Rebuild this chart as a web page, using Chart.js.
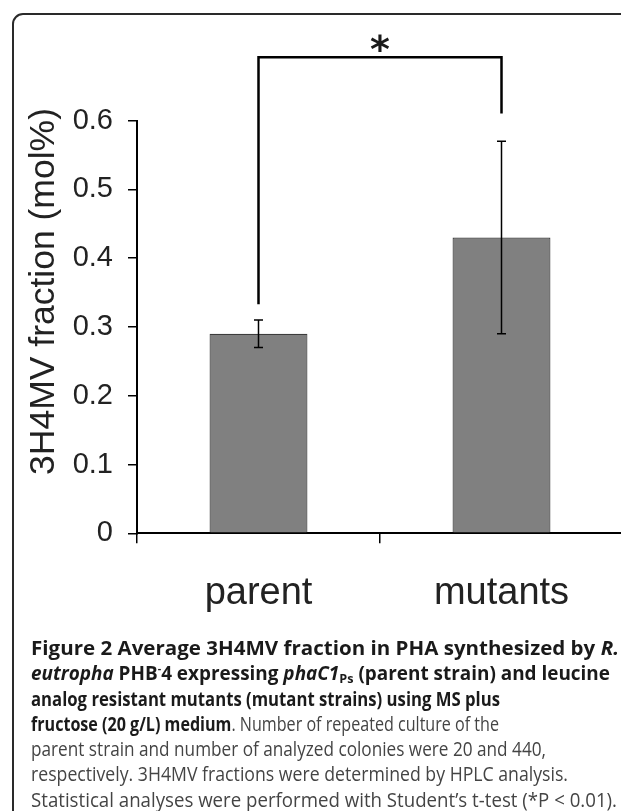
<!DOCTYPE html>
<html>
<head>
<meta charset="utf-8">
<script src="https://cdn.jsdelivr.net/npm/chart.js@4.4.1/dist/chart.umd.min.js"></script>
<style>
  html, body { margin: 0; padding: 0; background: #fff; overflow: hidden; width: 621px; height: 811px; }
  #frame {
    position: absolute; left: 12px; top: 13px; width: 700px; height: 900px;
    border: 2px solid #2a2a2a; border-top-left-radius: 11px;
  }
  #chartWrap { position: absolute; left: 0; top: 0; }
  #caption {
    position: absolute; left: 31px; top: 635px;
    font-family: "Open Sans", sans-serif; font-size: 19.5px; line-height: 25.3px;
    color: #444;
  }
  #caption .ln { display: block; height: 25.3px; }
  #caption .ln span.fit { display: inline-block; white-space: nowrap; transform-origin: 0 0; }
  #caption b { color: #1a1a1a; font-weight: 700; }
  #caption sup { font-size: 11px; vertical-align: 8px; line-height: 0; }
  #caption sub { font-size: 13px; vertical-align: -3px; line-height: 0; }
</style>
</head>
<body>
<div id="frame"></div>
<div id="chartWrap"><canvas id="barChart" width="640" height="640"></canvas></div>
<div id="caption">
  <div class="ln" data-right="619"><span class="fit"><b>Figure 2 Average 3H4MV fraction in PHA synthesized by <i>R.</i></b></span></div>
  <div class="ln" data-right="610"><span class="fit"><b><i>eutropha</i> PHB<sup>-</sup>4 expressing <i>phaC1</i><sub>Ps</sub> (parent strain) and leucine</b></span></div>
  <div class="ln" data-right="500"><span class="fit"><b>analog resistant mutants (mutant strains) using MS plus</b></span></div>
  <div class="ln" data-right="499"><span class="fit"><b>fructose (20 g/L) medium</b>. Number of repeated culture of the</span></div>
  <div class="ln" data-right="546"><span class="fit">parent strain and number of analyzed colonies were 20 and 440,</span></div>
  <div class="ln" data-right="568"><span class="fit">respectively. 3H4MV fractions were determined by HPLC analysis.</span></div>
  <div class="ln" data-right="617"><span class="fit">Statistical analyses were performed with Student’s t-test (*P &lt; 0.01).</span></div>
</div>
<script>
// data
const groups = ['parent', 'mutants'];
const fraction = [0.29, 0.43];
const errors = [0.02, 0.14];
const yTicks = [0, 0.1, 0.2, 0.3, 0.4, 0.5, 0.6];

// significance bracket (in data units)
const bracketTop = 0.692;
const bracketEnds = [0.333, 0.61];
const sigLevel = 0.713;
const sigMark = '*';

// squeeze caption lines to the widths in the figure
document.querySelectorAll('#caption .ln').forEach(ln => {
  const span = ln.querySelector('.fit');
  const target = +ln.dataset.right - 31;
  const w = span.getBoundingClientRect().width;
  span.style.transform = 'scaleX(' + (target / w) + ')';
});

const extras = {
  id: 'extras',
  afterDatasetsDraw(chart) {
    const ctx = chart.ctx;
    const y = chart.scales.y;
    const meta = chart.getDatasetMeta(0);
    ctx.save();
    // error bars
    ctx.strokeStyle = '#000';
    ctx.lineWidth = 1.5;
    meta.data.forEach((bar, i) => {
      const top = y.getPixelForValue(fraction[i] + errors[i]);
      const bot = y.getPixelForValue(fraction[i] - errors[i]);
      ctx.beginPath();
      ctx.moveTo(bar.x, top); ctx.lineTo(bar.x, bot);
      ctx.moveTo(bar.x - 4.5, top); ctx.lineTo(bar.x + 4.5, top);
      ctx.moveTo(bar.x - 4.5, bot); ctx.lineTo(bar.x + 4.5, bot);
      ctx.stroke();
    });
    // bracket
    const xl = meta.data[0].x, xr = meta.data[1].x;
    const yt = y.getPixelForValue(bracketTop);
    ctx.lineWidth = 2.5;
    ctx.beginPath();
    ctx.moveTo(xl, y.getPixelForValue(bracketEnds[0]));
    ctx.lineTo(xl, yt);
    ctx.lineTo(xr, yt);
    ctx.lineTo(xr, y.getPixelForValue(bracketEnds[1]));
    ctx.stroke();
    // star, sized to ~19px tall and centred on sigLevel
    ctx.fillStyle = '#1a1a1a';
    ctx.textAlign = 'center';
    ctx.textBaseline = 'alphabetic';
    ctx.font = 'bold 40px "DejaVu Sans"';
    let m = ctx.measureText(sigMark);
    let h = m.actualBoundingBoxAscent + m.actualBoundingBoxDescent;
    const size = 40 * 19 / h;
    ctx.font = 'bold ' + size + 'px "DejaVu Sans"';
    m = ctx.measureText(sigMark);
    const cy = y.getPixelForValue(sigLevel);
    const base = cy + (m.actualBoundingBoxAscent - m.actualBoundingBoxDescent) / 2;
    ctx.fillText(sigMark, (xl + xr) / 2, base);
    // y axis title
    ctx.translate(54, 291.5);
    ctx.rotate(-Math.PI / 2);
    ctx.font = '35.5px "Liberation Sans"';
    ctx.fillStyle = '#222';
    ctx.fillText('3H4MV fraction (mol%)', 0, 0);
    ctx.restore();
  }
};

const ctx = document.getElementById('barChart').getContext('2d');
const chart = new Chart(ctx, {
  type: 'bar',
  data: {
    labels: groups,
    datasets: [{
      data: fraction,
      backgroundColor: '#808080',
      borderColor: '#3c3c3c',
      borderWidth: 1.2,
      categoryPercentage: 1,
      barPercentage: 0.403
    }]
  },
  options: {
    responsive: false,
    animation: false,
    devicePixelRatio: 1,
    layout: { padding: { top: 120.5, left: 0, right: 17, bottom: 16.7 } },
    plugins: { legend: { display: false }, tooltip: { enabled: false } },
    scales: {
      x: {
        offset: true,
        grid: { offset: true, drawOnChartArea: false, drawTicks: true, tickLength: 10, color: '#000', lineWidth: 1.5 },
        border: { display: true, color: '#000', width: 2 },
        ticks: { color: '#222', font: { family: 'Liberation Sans', size: 38 }, padding: 27 },
        afterFit(scale) { scale.height = 90; }
      },
      y: {
        min: 0,
        max: 0.6,
        afterBuildTicks(scale) { scale.ticks = yTicks.map(v => ({ value: v })); },
        grid: { drawOnChartArea: false, drawTicks: true, tickLength: 9, color: '#000', lineWidth: 1.5 },
        border: { display: true, color: '#000', width: 2 },
        ticks: {
          color: '#222', font: { family: 'Liberation Sans', size: 29 }, padding: 15,
          callback: v => String(+v.toFixed(1))
        },
        afterFit(scale) { scale.width = 137; }
      }
    }
  },
  plugins: [extras]
});
</script>
</body>
</html>
